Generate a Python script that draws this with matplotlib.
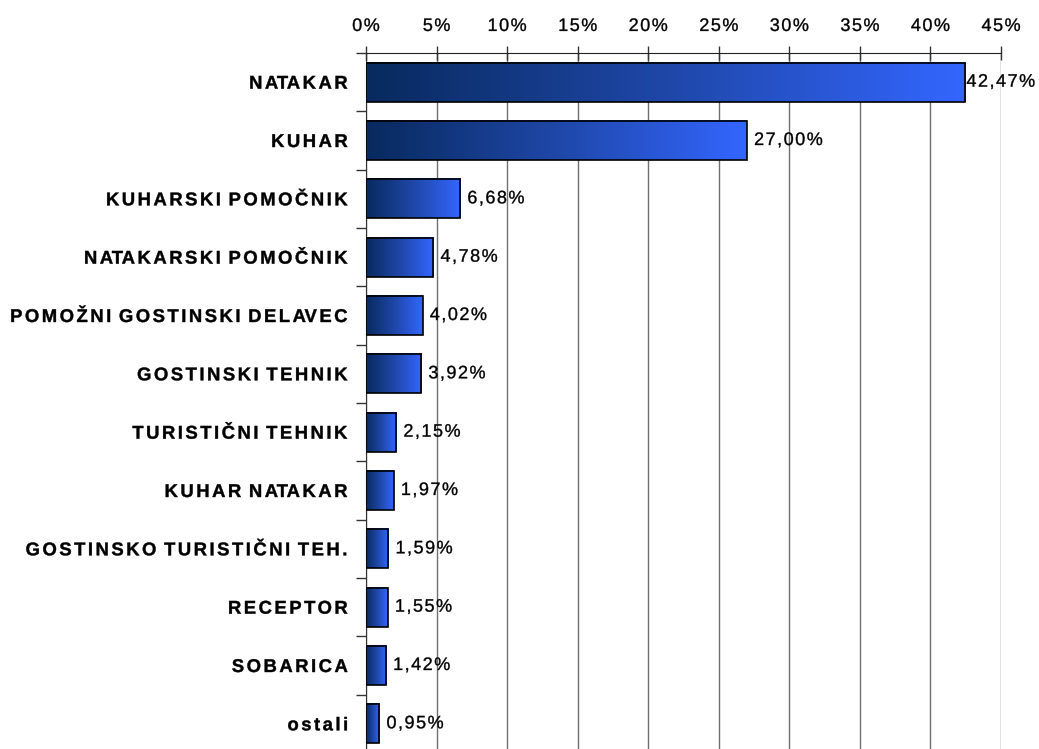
import numpy as np
import matplotlib.pyplot as plt
from matplotlib.colors import LinearSegmentedColormap
from matplotlib.ticker import FixedLocator
from matplotlib.patheffects import AbstractPathEffect
from matplotlib.path import Path
from matplotlib.transforms import IdentityTransform

categories = ['NATAKAR', 'KUHAR', 'KUHARSKI POMOČNIK', 'NATAKARSKI POMOČNIK',
              'POMOŽNI GOSTINSKI DELAVEC', 'GOSTINSKI TEHNIK', 'TURISTIČNI TEHNIK',
              'KUHAR NATAKAR', 'GOSTINSKO TURISTIČNI TEH.', 'RECEPTOR', 'SOBARICA', 'ostali']
values = [42.47, 27.00, 6.68, 4.78, 4.02, 3.92, 2.15, 1.97, 1.59, 1.55, 1.42, 0.95]
value_labels = ['42,47%', '27,00%', '6,68%', '4,78%', '4,02%', '3,92%', '2,15%',
                '1,97%', '1,59%', '1,55%', '1,42%', '0,95%']
xticks = [0, 5, 10, 15, 20, 25, 30, 35, 40, 45]


class Tracking(AbstractPathEffect):
    # spreads the glyphs of a text apart (the original uses wide letter spacing)
    def __init__(self, px, anchor='left', stroke=0.0):
        super().__init__()
        self.px = px
        self.anchor = anchor
        self.stroke = stroke

    def draw_path(self, renderer, gc, tpath, affine, rgbFace=None):
        verts = affine.transform(tpath.vertices)
        codes = tpath.codes
        if codes is None or len(codes) == 0:
            renderer.draw_path(gc, tpath, affine, rgbFace)
            return
        starts = np.where(codes == Path.MOVETO)[0]
        ends = list(starts[1:]) + [len(codes)]
        contours = []
        for s, e in zip(starts, ends):
            keep = codes[s:e] != Path.CLOSEPOLY
            xs = verts[s:e, 0][keep]
            contours.append((xs.min(), xs.max(), s, e))
        order = sorted(range(len(contours)), key=lambda k: contours[k][0])
        group = {}
        g, right = -1, -np.inf
        for k in order:
            x0, x1 = contours[k][:2]
            if x0 > right - 0.3:
                g += 1
                right = x1
            else:
                right = max(right, x1)
            group[k] = g
        n = g + 1
        base = {'left': 0, 'right': n - 1, 'center': (n - 1) / 2}[self.anchor]
        new = verts.copy()
        for k, (x0, x1, s, e) in enumerate(contours):
            new[s:e, 0] += (group[k] - base) * self.px
        gc0 = renderer.new_gc()
        gc0.copy_properties(gc)
        if self.stroke > 0:
            gc0.set_linewidth(self.stroke)
            gc0.set_foreground(rgbFace)
        renderer.draw_path(gc0, Path(new, codes), IdentityTransform(), rgbFace)
        gc0.restore()


plt.rcParams['font.family'] = ['Liberation Sans', 'DejaVu Sans']

fig = plt.figure(figsize=(10.39, 7.49), dpi=100)
ax = fig.add_axes([366/1039, 1 - 753/749, (1001-366)/1039, (753-53)/749])

cmap = LinearSegmentedColormap.from_list('bluegrad', ['#082a5e', '#1f47a8', '#3366ff'])
grad = np.linspace(0, 1, 256).reshape(1, -1)
h = 0.67
n = len(values)
for i, v in enumerate(values):
    ax.imshow(grad, extent=[0, v, i + h/2, i - h/2], aspect='auto', cmap=cmap,
              zorder=3, interpolation='bilinear')
    ax.barh(i, v, height=h, color='none', edgecolor='black', linewidth=1.2, zorder=4)
    # labels sit just outside the bar end, pulled back if they would leave the chart
    ax.text(min(v + 0.5, 42.55), i, value_labels[i], va='center', ha='left', fontsize=13,
            zorder=5, path_effects=[Tracking(1.5, 'left', 0.25)])

ax.set_xlim(0, 45)
ax.set_ylim(n - 0.5, -0.5)
ax.set_xticks(xticks)
ax.set_xticklabels([f'{t}%' for t in xticks], fontsize=13)
ax.xaxis.tick_top()
ax.tick_params(axis='x', direction='inout', length=10, width=1, color='#333333', pad=8)
ax.grid(axis='x', color='#707070', linewidth=1, zorder=0)

ax.set_yticks(range(n))
ax.set_yticklabels(categories, fontsize=13.3, fontweight='bold')
ax.tick_params(axis='y', length=0, pad=13)
ax.yaxis.set_minor_locator(FixedLocator(np.arange(-0.5, n, 1)))
ax.tick_params(axis='y', which='minor', direction='out', length=7, width=1, color='#333333')

for lbl in ax.get_xticklabels():
    lbl.set_path_effects([Tracking(1.5, 'center', 0.25)])
for lbl in ax.get_yticklabels():
    lbl.set_path_effects([Tracking(2.5, 'right', 0.3)])

for s in ['right', 'bottom']:
    ax.spines[s].set_visible(False)
ax.spines['left'].set_color('#333333')
ax.spines['top'].set_color('#222222')

fig.savefig('out.png', dpi=100)
